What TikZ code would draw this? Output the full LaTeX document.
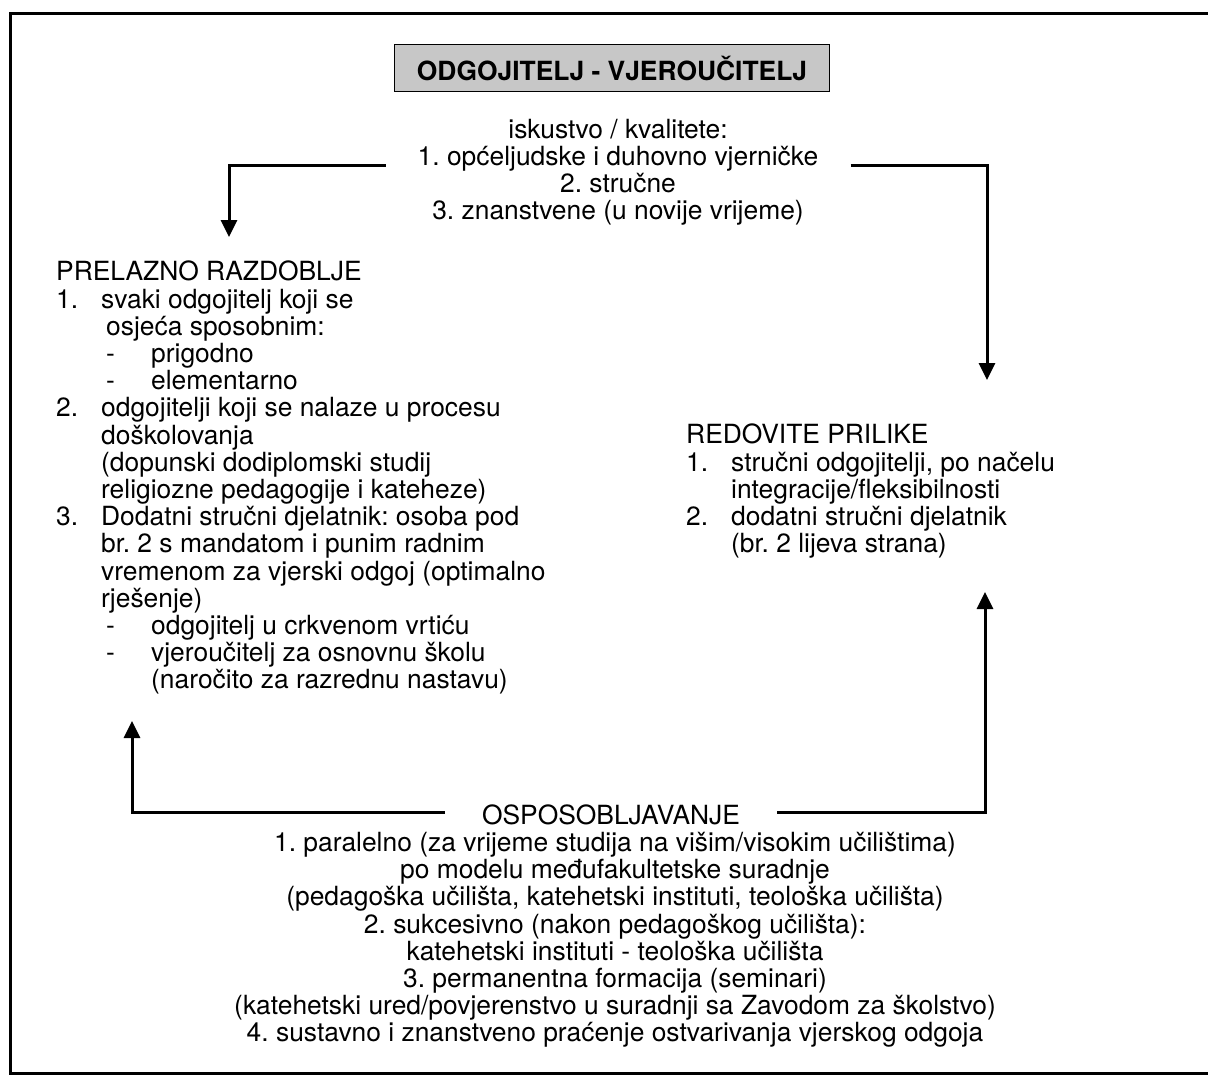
\documentclass[tikz,border=0pt]{standalone}
\usepackage{fontspec}
\setmainfont{TeX Gyre Heros}
\usetikzlibrary{arrows.meta}

\newcommand{\numitem}[1]{\makebox[45pt][l]{#1}}
\newcommand{\dashitem}{\makebox[50pt][l]{}\makebox[45pt][l]{-}}

\tikzset{
  txt/.style={inner sep=0pt, font=\fontsize{26.4}{27.2}\selectfont},
  blocktxt/.style={txt, align=left, anchor=north west},
  arr/.style={line width=3pt, -{Triangle[width=16pt,length=17pt]}},
  titlebox/.style={draw, line width=1.5pt, fill=black!22, minimum width=435pt,
    minimum height=47pt, inner sep=0pt, font=\fontsize{26.4}{27.2}\selectfont\bfseries},
}

\begin{document}
\frenchspacing
\begin{tikzpicture}[x=1pt, y=-1pt]
  \useasboundingbox (0,0) rectangle (1208,1077);
  % frame
  \draw[line width=3pt] (1220,13) -- (10,13) -- (10,1073) -- (1220,1073);
  \node[titlebox] (title) at (612,68) {ODGOJITELJ - VJEROUČITELJ};
  % iskustvo / kvalitete
  \node[txt, anchor=base] (kvalhead) at (618,138) {iskustvo / kvalitete:};
  \node[txt, anchor=base, inner xsep=32pt] (kval1) at (618,165) {1. općeljudske i duhovno vjerničke};
  \node[txt, anchor=base] (kval2) at (618,192) {2. stručne};
  \node[txt, anchor=base] (kval3) at (618,219) {3. znanstvene (u novije vrijeme)};
  \coordinate (tipL) at (229,237);
  \coordinate (tipR) at (987,380);
  \draw[arr] (kval1.base west) -| (tipL);
  \draw[arr] (kval1.base east) -| (tipR);
  % lijeva strana
  \node[blocktxt] (prelazno) at (56,261) {PRELAZNO RAZDOBLJE\\
    \numitem{1.}svaki odgojitelj koji se\\
    \numitem{}\hspace*{5pt}osjeća sposobnim:\\
    \dashitem prigodno\\
    \dashitem elementarno\\
    \numitem{2.}odgojitelji koji se nalaze u procesu\\
    \numitem{}doškolovanja\\
    \numitem{}(dopunski dodiplomski studij\\
    \numitem{}religiozne pedagogije i kateheze)\\
    \numitem{3.}Dodatni stručni djelatnik: osoba pod\\
    \numitem{}br. 2 s mandatom i punim radnim\\
    \numitem{}vremenom za vjerski odgoj (optimalno\\
    \numitem{}rješenje)\\
    \dashitem odgojitelj u crkvenom vrtiću\\
    \dashitem vjeroučitelj za osnovnu školu\\
    \makebox[95pt][l]{}(naročito za razrednu nastavu)};
  % desna strana
  \node[blocktxt] (redovite) at (686,424) {REDOVITE PRILIKE\\
    \numitem{1.}stručni odgojitelji, po načelu\\
    \numitem{}integracije/fleksibilnosti\\
    \numitem{2.}dodatni stručni djelatnik\\
    \numitem{}(br. 2 lijeva strana)};
  % osposobljavanje
  \node[txt, anchor=base, inner xsep=37pt] (osp) at (611,824) {OSPOSOBLJAVANJE};
  \node[txt, align=center, anchor=north] (ospbody) at (615,832) {1. paralelno (za vrijeme studija na višim/visokim učilištima)\\
    po modelu međufakultetske suradnje\\
    (pedagoška učilišta, katehetski instituti, teološka učilišta)\\
    2. sukcesivno (nakon pedagoškog učilišta):\\
    katehetski instituti - teološka učilišta\\
    3. permanentna formacija (seminari)\\
    (katehetski ured/povjerenstvo u suradnji sa Zavodom za školstvo)\\
    4. sustavno i znanstveno praćenje ostvarivanja vjerskog odgoja};
  \coordinate (tipBL) at (132,721);
  \coordinate (tipBR) at (985,592);
  \draw[arr] ([yshift=12pt]osp.base west) -| (tipBL);
  \draw[arr] ([yshift=12pt]osp.base east) -| (tipBR);
\end{tikzpicture}
\end{document}
